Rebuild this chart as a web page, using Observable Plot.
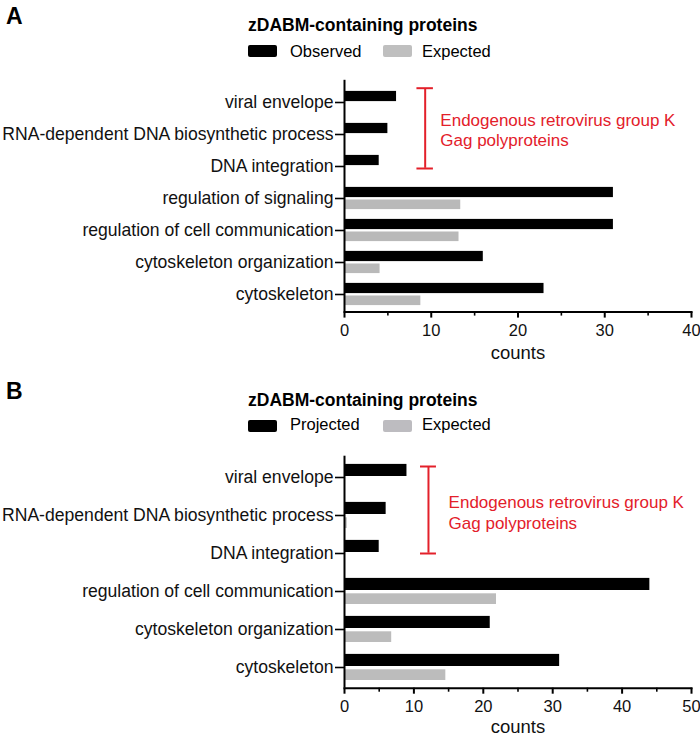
<!DOCTYPE html>
<html><head><meta charset="utf-8">
<script src="https://cdn.jsdelivr.net/npm/d3@7"></script>
<script src="https://cdn.jsdelivr.net/npm/@observablehq/plot@0.6"></script>
<style>
body{margin:0;width:700px;height:738px;position:relative;background:#fff;font-family:"Liberation Sans",Arial,sans-serif;overflow:hidden;color:#000}
.abs{position:absolute;line-height:1;white-space:nowrap}
.plabel{font-size:23px;font-weight:bold}
.title{font-size:17.5px;font-weight:bold}
.leg{font-size:16.5px}
.sw{position:absolute;width:29px;height:12px;border-radius:2px}
.plotbox{position:absolute;left:0}
</style></head><body>
<script>
// ---- Panel A data ----
const categoriesA = ["viral envelope","RNA-dependent DNA biosynthetic process","DNA integration","regulation of signaling","regulation of cell communication","cytoskeleton organization","cytoskeleton"];
const observedA = [6, 5, 4, 31, 31, 16, 23];
const expectedA = [0, 0, 0, 13.4, 13.2, 4.1, 8.8];
const ticksA = [0, 10, 20, 30, 40];
const minorTicksA = [5, 15, 25, 35];
// ---- Panel B data ----
const categoriesB = ["viral envelope","RNA-dependent DNA biosynthetic process","DNA integration","regulation of cell communication","cytoskeleton organization","cytoskeleton"];
const projectedB = [9, 6, 5, 44, 21, 31];
const expectedB = [0, 0.4, 0, 21.9, 6.8, 14.6];
const ticksB = [0, 10, 20, 30, 40, 50];
const minorTicksB = [5, 15, 25, 35, 45];
// ---- labels ----
const titleText = "zDABM-containing proteins";
const seriesA = ["Observed", "Expected"];
const seriesB = ["Projected", "Expected"];
const annotationText = "Endogenous retrovirus group K\nGag polyproteins";
const xLabel = "counts";
// annotation bracket positions (in counts)
const bracketA = {x: 9.3, half: 0.95, textX: 11.05};
const bracketB = {x: 12.1, half: 1.15, textX: 15.0};

const RED = "#e3202a";

function rows(cats, vals) { return cats.map((c, i) => ({cat: c, v: vals[i]})); }

function panel(o) {
  return Plot.plot({
    width: 700, height: o.height,
    marginLeft: 344, marginRight: 9, marginTop: o.marginTop, marginBottom: o.marginBottom,
    style: {fontFamily: '"Liberation Sans", Arial, sans-serif', background: "transparent", overflow: "visible"},
    x: {domain: o.xdomain},
    y: {domain: o.cats, padding: 0},
    marks: [
      Plot.barX(rows(o.cats, o.a), {x: "v", y: "cat", fill: "#000", insetTop: o.insA[0], insetBottom: o.insA[1]}),
      Plot.barX(rows(o.cats, o.b), {x: "v", y: "cat", fill: o.gray, insetTop: o.insB[0], insetBottom: o.insB[1]}),
      Plot.ruleX([0], {stroke: "#000", strokeWidth: 2, insetTop: o.axisTopInset}),
      Plot.frame({anchor: "bottom", stroke: "#000", strokeWidth: 2}),
      Plot.axisY({tickSize: 9, tickPadding: 2, fontSize: 17.6, strokeWidth: 1.6, label: null, fill: "#111"}),
      Plot.axisX(o.ticks, {tickSize: 6, tickPadding: 6.5, fontSize: 16.5, strokeWidth: 2, label: null, fill: "#111"}),
      Plot.axisX(o.minor, {tickSize: 4, strokeWidth: 1.6, tickFormat: () => "", label: null}),
      Plot.text([xLabel], {frameAnchor: "bottom", lineAnchor: "middle", dy: o.labelDy, fontSize: 18.5, fill: "#111"}),
      // bracket
      Plot.ruleX([{x: o.br.x, y1: o.cats[0], y2: o.cats[2]}], {x: "x", y1: "y1", y2: "y2", stroke: RED, strokeWidth: 2, insetTop: o.brInset[0], insetBottom: o.brInset[1]}),
      Plot.ruleY([{y: o.cats[0], x1: o.br.x - o.br.half, x2: o.br.x + o.br.half}], {y: "y", x1: "x1", x2: "x2", stroke: RED, strokeWidth: 2, dy: o.capDy[0]}),
      Plot.ruleY([{y: o.cats[2], x1: o.br.x - o.br.half, x2: o.br.x + o.br.half}], {y: "y", x1: "x1", x2: "x2", stroke: RED, strokeWidth: 2, dy: o.capDy[1]}),
      Plot.text([{x: o.br.textX, y: o.cats[1], t: annotationText}], {x: "x", y: "y", text: "t", textAnchor: "start", lineAnchor: "middle", fontSize: 17, fill: RED, dy: o.textDy, lineHeight: o.lineHeight})
    ]
  });
}

function addAbs(html, cls, left, top) {
  const d = document.createElement("div");
  d.className = "abs " + (cls || "");
  d.style.left = left + "px"; d.style.top = top + "px";
  d.textContent = html;
  document.body.appendChild(d);
  return d;
}
function addSwatch(left, top, color) {
  const d = document.createElement("div");
  d.className = "sw";
  d.style.left = left + "px"; d.style.top = top + "px"; d.style.background = color;
  document.body.appendChild(d);
}

// Panel A header
addAbs("A", "plabel", 6, 5);
addAbs(titleText, "title", 248, 16.9);
addSwatch(248, 45, "#000");
addAbs(seriesA[0], "leg", 290, 42.7);
addSwatch(383, 45, "#bfbfbf");
addAbs(seriesA[1], "leg", 422, 42.7);

// Panel B header
addAbs("B", "plabel", 6, 380);
addAbs(titleText, "title", 248, 391.9);
addSwatch(248, 419.5, "#000");
addAbs(seriesB[0], "leg", 290, 416);
addSwatch(383, 419.5, "#bdbcc0");
addAbs(seriesB[1], "leg", 422, 416);

const pA = panel({
  cats: categoriesA, a: observedA, b: expectedA, xdomain: [0, 40], ticks: ticksA, minor: minorTicksA,
  height: 306.6, marginTop: 24.8, marginBottom: 55,
  insA: [4.9, 16.9], insB: [17.5, 4.9], gray: "#b9b9b9", axisTopInset: -5,
  labelDy: 40.5, br: bracketA, brInset: [2, 14.2], capDy: [-14.3, 2], textDy: -5, lineHeight: 1.18
});
const boxA = document.createElement("div"); boxA.className = "plotbox"; boxA.style.top = "60px";
boxA.appendChild(pA); document.body.appendChild(boxA);

const pB = panel({
  cats: categoriesB, a: projectedB, b: expectedB, xdomain: [0, 50], ticks: ticksB, minor: minorTicksB,
  height: 308, marginTop: 25.7, marginBottom: 50.3,
  insA: [5.9, 20], insB: [21.3, 6], gray: "#bcbcbc", axisTopInset: 0,
  labelDy: 39, br: bracketB, brInset: [8.3, 19.3], capDy: [-11, 0], textDy: -4, lineHeight: 1.22
});
const boxB = document.createElement("div"); boxB.className = "plotbox"; boxB.style.top = "430px";
boxB.appendChild(pB); document.body.appendChild(boxB);
</script>
</body></html>
